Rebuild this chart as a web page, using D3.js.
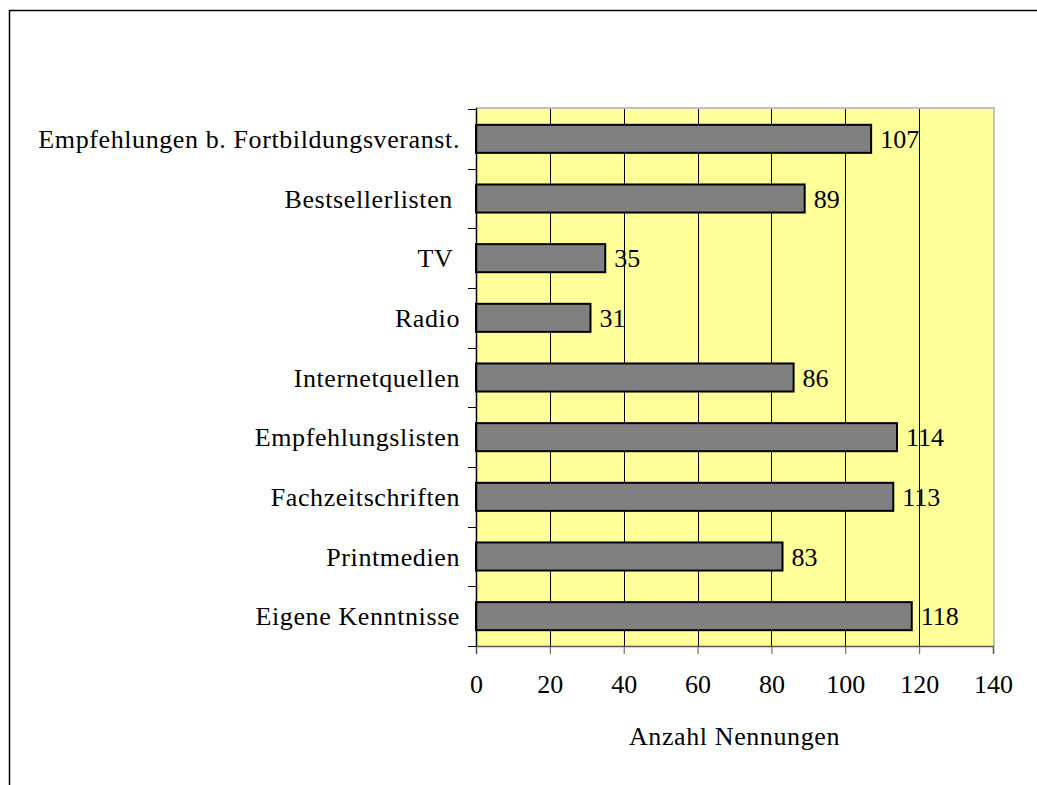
<!DOCTYPE html>
<html>
<head>
<meta charset="utf-8">
<script src="https://cdn.jsdelivr.net/npm/d3@7"></script>
<style>
  body { margin: 0; background: #fff; }
  text { font-family: "Liberation Serif", "DejaVu Serif", serif; white-space: pre; }
</style>
</head>
<body>
<div id="chart"></div>
<script>
let categories = ["Empfehlungen b. Fortbildungsveranst.", "Bestsellerlisten ", "TV ", "Radio",
  "Internetquellen", "Empfehlungslisten", "Fachzeitschriften", "Printmedien", "Eigene Kenntnisse"];
let values = [107, 89, 35, 31, 86, 114, 113, 83, 118];
let xTicks = [0, 20, 40, 60, 80, 100, 120, 140];
let xTitle = "Anzahl Nennungen";

let width = 1037,
  height = 785,
  fontSize = 26;

let pLeft = 476, pRight = 993, pTop = 109, pBottom = 646;

let svg = d3.select("#chart")
  .append("svg")
  .attr("width", width)
  .attr("height", height);

// outer frame
svg.append("path")
  .attr("d", `M9.5,${height} V10.5 H${width}`)
  .attr("fill", "none")
  .attr("stroke", "#000")
  .attr("stroke-width", 1.5);

let x = d3.scaleLinear()
  .domain([0, 140])
  .range([pLeft, pRight]);

let y = d3.scaleBand()
  .domain(categories)
  .range([pTop, pBottom])
  .paddingInner(0.53)
  .paddingOuter(0.265);

// plot background
svg.append("rect")
  .attr("x", pLeft)
  .attr("y", pTop)
  .attr("width", pRight - pLeft)
  .attr("height", pBottom - pTop)
  .attr("fill", "#FFFF99");

svg.append("path")
  .attr("d", `M${pLeft},${pTop - 1} H${pRight + 1} V${pBottom}`)
  .attr("fill", "none")
  .attr("stroke", "#c0c0c0")
  .attr("stroke-width", 2);

// grid lines
svg.append("g")
  .selectAll("line")
  .data(xTicks.slice(1, -1))
  .join("line")
  .attr("x1", d => Math.round(x(d)) + 0.5)
  .attr("x2", d => Math.round(x(d)) + 0.5)
  .attr("y1", pTop)
  .attr("y2", pBottom)
  .attr("stroke", "#000")
  .attr("stroke-width", 1);

// bars
svg.append("g")
  .selectAll("rect")
  .data(values)
  .join("rect")
  .attr("x", x(0))
  .attr("y", (d, i) => y(categories[i]))
  .attr("width", d => x(d) - x(0))
  .attr("height", y.bandwidth())
  .attr("fill", "#808080")
  .attr("stroke", "#000")
  .attr("stroke-width", 2);

// value labels
svg.append("g")
  .selectAll("text")
  .data(values)
  .join("text")
  .attr("x", d => x(d) + 9)
  .attr("y", (d, i) => y(categories[i]) + y.bandwidth() / 2)
  .attr("dy", "0.35em")
  .attr("font-size", fontSize)
  .attr("fill", "#000")
  .text(d => d);

// x axis
let xAxis = svg.append("g")
  .attr("transform", `translate(0,${pBottom})`)
  .call(d3.axisBottom(x).tickValues(xTicks).tickSize(8).tickPadding(21));
xAxis.select(".domain").attr("stroke", "#555").attr("stroke-width", 1.5);
xAxis.selectAll(".tick line").attr("stroke", "#555");
xAxis.selectAll("text")
  .attr("font-size", fontSize)
  .attr("font-family", "Liberation Serif, serif")
  .attr("fill", "#000");

// y axis: ticks on category boundaries
let boundaries = d3.range(categories.length + 1).map(i => pTop + i * (pBottom - pTop) / categories.length);
svg.append("g")
  .selectAll("line")
  .data(boundaries)
  .join("line")
  .attr("x1", pLeft - 8)
  .attr("x2", pLeft)
  .attr("y1", d => Math.round(d) + 0.5)
  .attr("y2", d => Math.round(d) + 0.5)
  .attr("stroke", "#000");

svg.append("line")
  .attr("x1", pLeft + 0.5)
  .attr("x2", pLeft + 0.5)
  .attr("y1", pTop - 1)
  .attr("y2", pBottom)
  .attr("stroke", "#000")
  .attr("stroke-width", 1.5);

svg.append("g")
  .selectAll("text")
  .data(categories)
  .join("text")
  .attr("x", pLeft - 16)
  .attr("y", d => y(d) + y.bandwidth() / 2)
  .attr("dy", "0.35em")
  .attr("text-anchor", "end")
  .attr("font-size", fontSize)
  .attr("letter-spacing", "0.6px")
  .attr("fill", "#000")
  .text(d => d);

// axis title
svg.append("text")
  .attr("x", (pLeft + pRight) / 2)
  .attr("y", 745)
  .attr("text-anchor", "middle")
  .attr("font-size", fontSize)
  .attr("letter-spacing", "0.6px")
  .attr("fill", "#000")
  .text(xTitle);
</script>
</body>
</html>
